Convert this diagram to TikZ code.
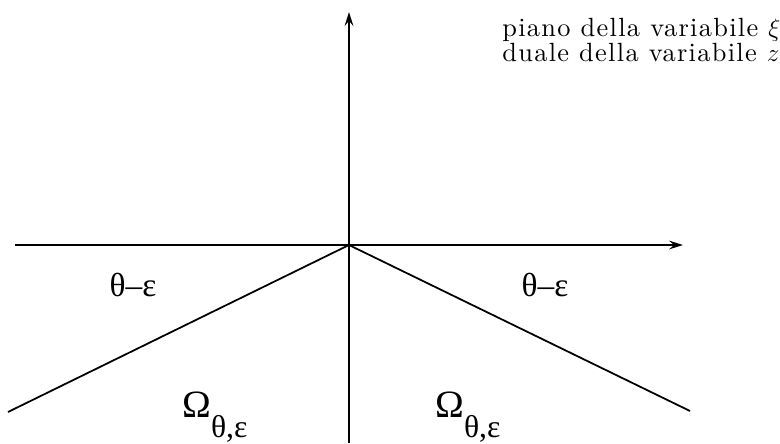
\documentclass[tikz,border=0pt]{standalone}
\usepackage{fontspec}
\usetikzlibrary{arrows.meta}
\newfontfamily\greekfont{Liberation Serif}
\newfontfamily\titlefont[LetterSpace=5]{lmroman10-regular.otf}

\begin{document}
\begin{tikzpicture}[>={Stealth[length=8pt,width=5pt,inset=3pt]},x=0.02cm,y=-0.02cm,
    every node/.style={inner sep=0pt},axis/.style={->,line width=1pt},ray/.style={line width=1pt},
    angle/.style={font=\greekfont\fontsize{19}{22}\selectfont},
    region/.style={anchor=base west,font=\greekfont\fontsize{22}{25}\selectfont},
    caption/.style={anchor=base west,font=\titlefont\fontsize{15}{17}\selectfont}]

  \useasboundingbox (0,0) rectangle (780,443);

  % ── axes ─────────────────────────────────────────
  \coordinate (O) at (349,245);
  \coordinate (ybot) at (349,443);
  \coordinate (ytop) at (349,12);
  \coordinate (xleft) at (15,245);
  \coordinate (xright) at (683,245);
  \coordinate (rayL) at (8,412);
  \coordinate (rayR) at (690,411);

  \draw[axis] (ybot)--(ytop);
  \draw[axis] (xleft)--(xright);

  % ── rays ─────────────────────────────────────────
  \draw[ray] (O)--(rayL);
  \draw[ray] (O)--(rayR);

  % ── labels ───────────────────────────────────────
  \node[angle] (angL) at (133,285) {θ–ε};
  \node[angle] (angR) at (545,285) {θ–ε};

  \node[region] (omL) at (182,417)
    {Ω\raisebox{-11.5pt}{\fontsize{18}{20}\selectfont θ,ε}};
  \node[region] (omR) at (435,417)
    {Ω\raisebox{-11.5pt}{\fontsize{18}{20}\selectfont θ,ε}};

  \node[caption] (cap1) at (502,36) {piano della variabile $\xi$};
  \node[caption] (cap2) at (502,61) {duale della variabile $z$};

\end{tikzpicture}
\end{document}
